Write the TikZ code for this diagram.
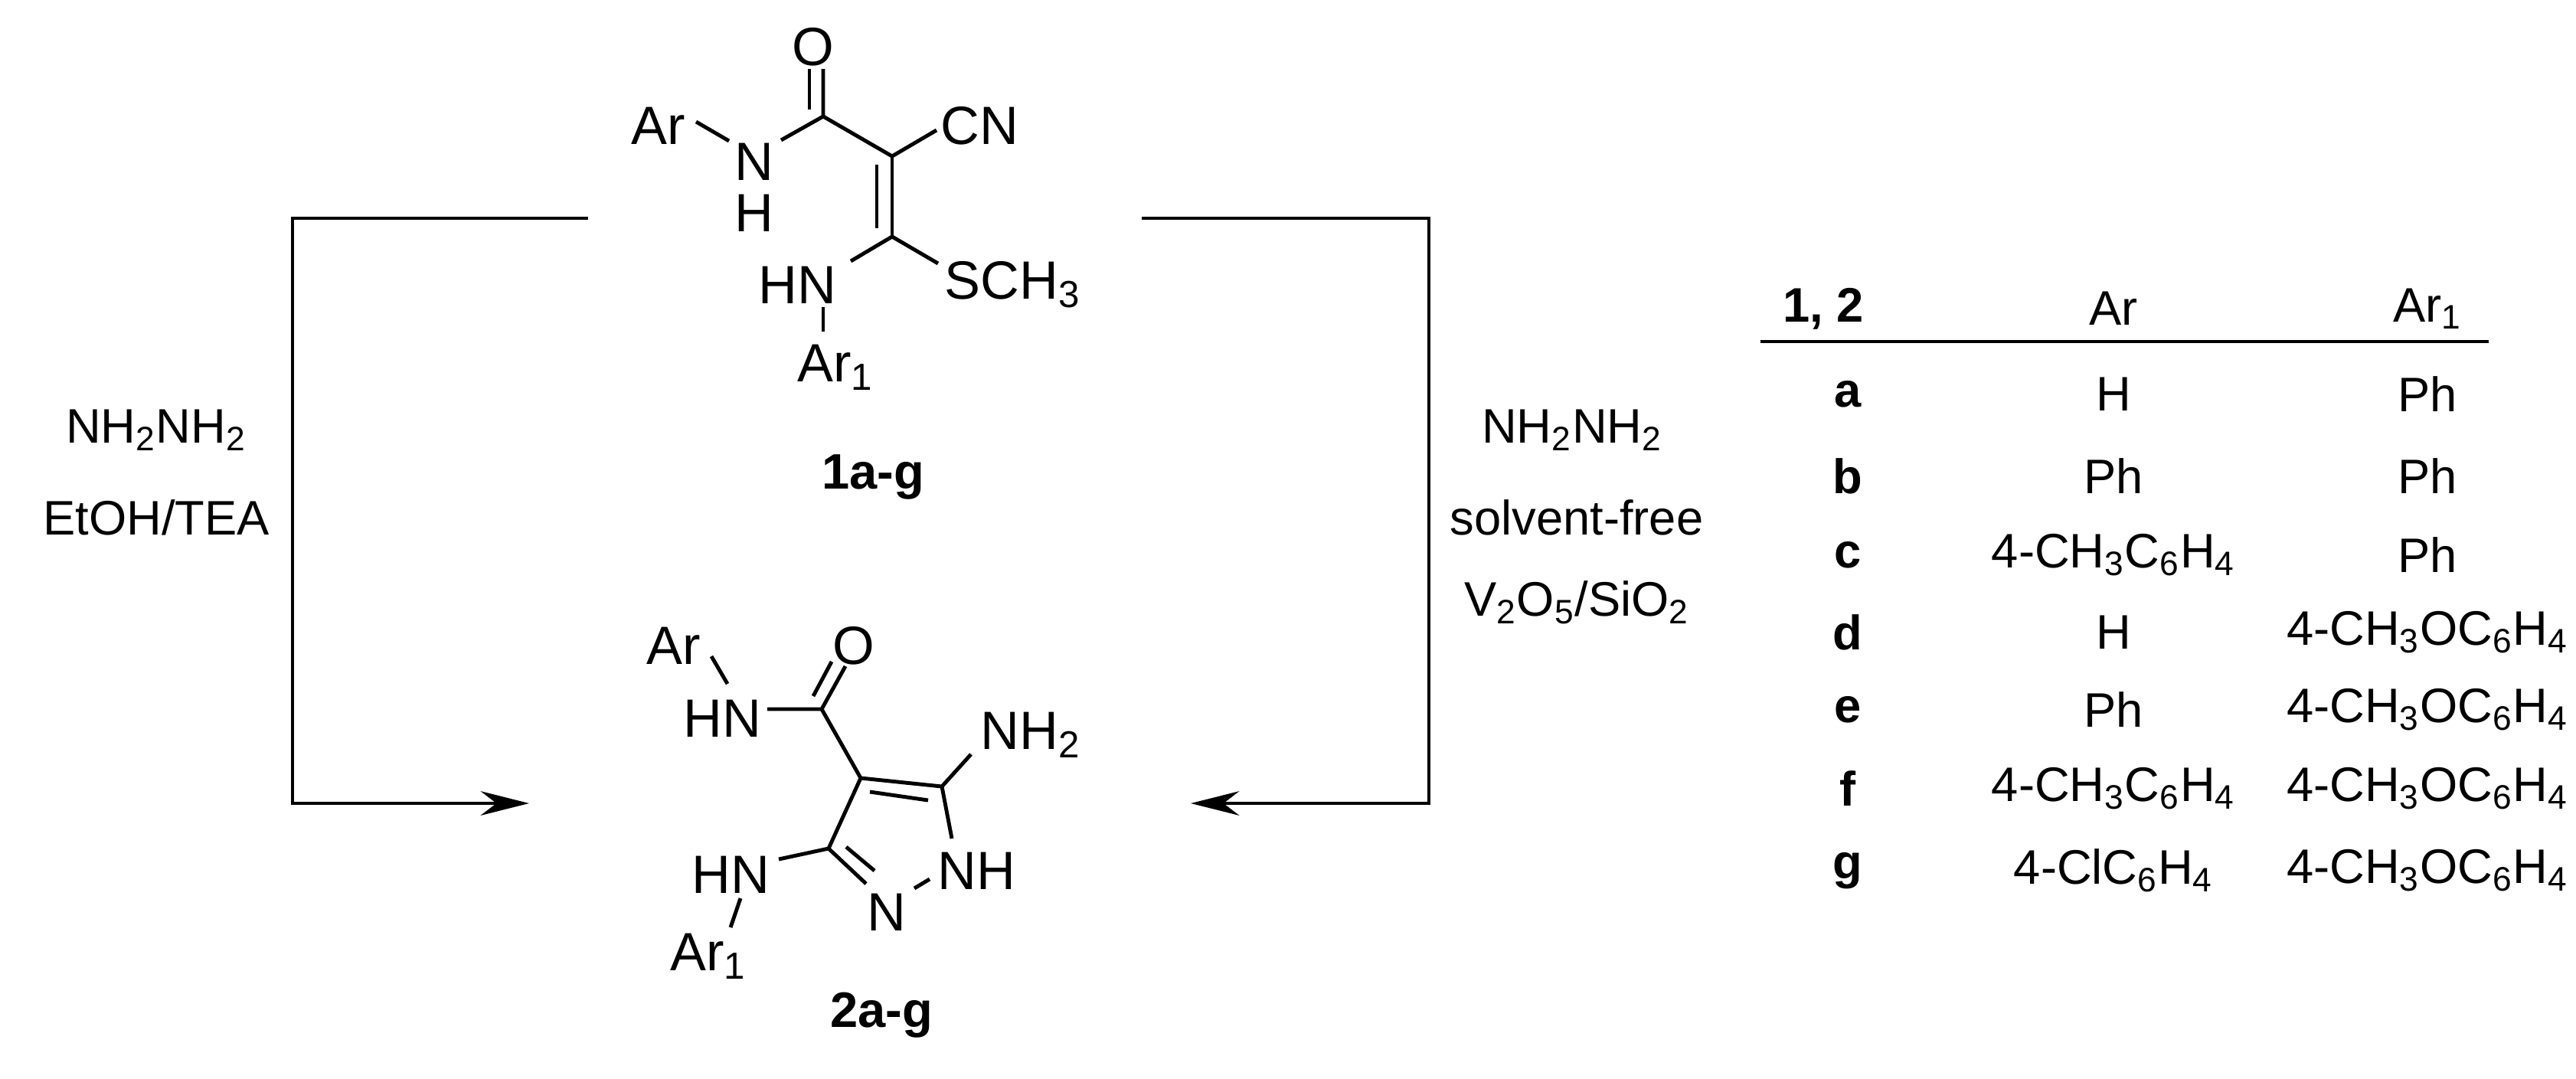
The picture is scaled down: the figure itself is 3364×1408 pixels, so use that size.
\documentclass[tikz,border=0pt]{standalone}
\usepackage{fontspec}
\setmainfont{Liberation Sans}
\usetikzlibrary{arrows.meta}
\newcommand{\sub}[1]{\textsubscript{#1}}
\begin{document}
\begin{tikzpicture}[x=0.01cm,y=-0.01cm,
  atom/.style={inner sep=0pt,font=\fontsize{20}{24}\selectfont},
  txt/.style={inner sep=0pt,font=\fontsize{18}{21}\selectfont},
  btxt/.style={inner sep=0pt,font=\fontsize{18}{21}\selectfont\bfseries},
  lbl/.style={inner sep=0pt,font=\fontsize{18.5}{22}\selectfont\bfseries},
  bond/.style={line width=1.4pt},
  rxn/.style={line width=1.2pt},
  arr/.style={rxn,-{Stealth[length=18pt,width=9pt]}}]
\useasboundingbox (0,0) rectangle (3364,1408);
% ---- compound 1
\node[atom] (o1) at (1062,61) {O};
\node[atom] (ar1a) at (860,164) {Ar};
\node[atom] (n1) at (985,211) {N};
\node[atom] (h1) at (985,278) {H};
\node[atom] (cn) at (1279,164) {CN};
\node[atom,anchor=east] (hn1) at (1093,372) {HN};
\node[atom,anchor=west] (s1) at (1233,372) {SCH\sub{3}};
\node[atom] (ar1b) at (1091,480) {Ar\sub{1}};
\node[lbl] (l1) at (1140,623) {1a-g};
\coordinate (c1) at (1075,152);
\coordinate (ca) at (1165,204);
\coordinate (cb) at (1165,309);
\draw[bond] (909,159) -- (952,184);
\draw[bond] (1020,183) -- (c1) -- (1075,90);
\draw[bond] (1057,90) -- (1057,143);
\draw[bond] (c1) -- (ca) -- (1223,170);
\draw[bond] (ca) -- (cb);
\draw[bond] (1145,215) -- (1145,298);
\draw[bond] (cb) -- (1111,341);
\draw[bond] (cb) -- (1225,344);
\draw[bond] (1075,401) -- (1075,433);
% ---- compound 2
\node[atom] (ar2a) at (880,843) {Ar};
\node[atom] (hn2) at (943,938) {HN};
\node[atom] (o2) at (1115,843) {O};
\node[atom,anchor=west] (nh2) at (1280,960) {NH\sub{2}};
\node[atom] (nh) at (1275,1137) {NH};
\node[atom] (n2) at (1158,1191) {N};
\node[atom] (hn3) at (954,1142) {HN};
\node[atom] (ar2b) at (925,1249) {Ar\sub{1}};
\node[lbl] (l2) at (1151,1326) {2a-g};
\coordinate (c2) at (1073,926);
\coordinate (c4) at (1124,1016);
\coordinate (c5) at (1230,1027);
\coordinate (c3) at (1082,1108);
\draw[bond] (929,857) -- (950,893);
\draw[bond] (1002,926) -- (c2) -- (1104,870);
\draw[bond] (1062,909) -- (1086,864);
\draw[bond] (c2) -- (c4) -- (c5) -- (1268,985);
\draw[bond] (1136,1034) -- (1212,1045);
\draw[bond] (c5) -- (1243,1095);
\draw[bond] (1214,1148) -- (1194,1160);
\draw[bond] (1131,1154) -- (c3) -- (c4);
\draw[bond] (1105,1106) -- (1142,1137);
\draw[bond] (c3) -- (1017,1122);
\draw[bond] (967,1173) -- (954,1211);
% ---- reaction arrows
\coordinate (la) at (768,285);
\coordinate (lb) at (691,1049);
\coordinate (ra) at (1491,285);
\coordinate (rb) at (1555,1049);
\draw[arr] (la) -- (382,285) |- (lb);
\draw[arr] (ra) -- (1866,285) |- (rb);
\node[txt] (c1a) at (204,562) {NH\sub{2}NH\sub{2}};
\node[txt] (c1b) at (204,676) {EtOH/TEA};
\node[txt] (c2a) at (2053,562) {NH\sub{2}NH\sub{2}};
\node[txt] (c2b) at (2059,676) {solvent-free};
\node[txt] (c2c) at (2059,787) {V\sub{2}O\sub{5}/SiO\sub{2}};
% ---- table
\node[btxt] (th1) at (2381,403) {1, 2};
\node[txt] (th2) at (2760,403) {Ar};
\node[txt] (th3) at (3170,403) {Ar\sub{1}};
\draw[rxn] (2299,446) -- (3250,446);
\foreach \y/\a/\b/\c in {515/a/H/Ph, 622/b/Ph/Ph, 725/c/4-CH\sub{3}C\sub{6}H\sub{4}/Ph,
  826/d/H/4-CH\sub{3}OC\sub{6}H\sub{4}, 927/e/Ph/4-CH\sub{3}OC\sub{6}H\sub{4},
  1030/f/4-CH\sub{3}C\sub{6}H\sub{4}/4-CH\sub{3}OC\sub{6}H\sub{4},
  1137/g/4-ClC\sub{6}H\sub{4}/4-CH\sub{3}OC\sub{6}H\sub{4}}{
  \node[btxt] (r\a) at (2413,\y) {\a};
  \node[txt] (ra\a) at (2760,\y) {\b};
  \node[txt] (rb\a) at (3170,\y) {\c};
}
\end{tikzpicture}
\end{document}
